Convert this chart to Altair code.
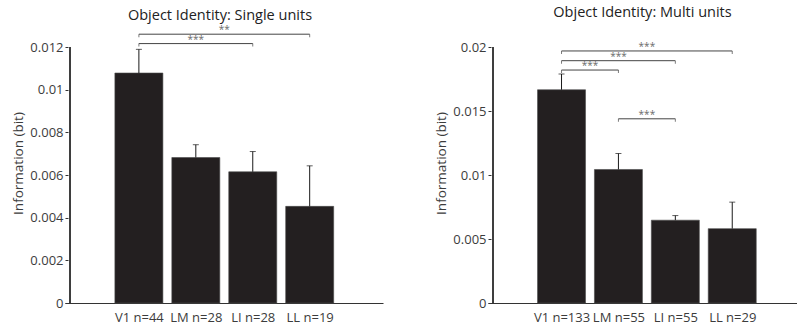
import altair as alt
import pandas as pd

# Visual areas along the ventral stream, plotted at positions 1..4
regions = ["V1", "LM", "LI", "LL"]
positions = [1, 2, 3, 4]

# Single units: mean information and SEM (bit)
single_n = [44, 28, 28, 19]
single_mean = [0.01078, 0.00682, 0.00615, 0.00453]
single_err = [0.00111, 0.00060, 0.00095, 0.00190]

# Multi units: mean information and SEM (bit)
multi_n = [133, 55, 55, 29]
multi_mean = [0.01666, 0.01043, 0.00647, 0.00581]
multi_err = [0.00123, 0.00125, 0.00036, 0.00207]

# Significance brackets: pair of areas, bracket height (bit), stars
single_sig_from = [1, 1]
single_sig_to = [3, 4]
single_sig_level = [0.01216, 0.0126]
single_sig_mark = ["***", "**"]

multi_sig_from = [1, 1, 1, 2]
multi_sig_to = [2, 3, 4, 3]
multi_sig_level = [0.0182, 0.01893, 0.01969, 0.01439]
multi_sig_mark = ["***", "***", "***", "***"]

single_ticks = [0, 0.002, 0.004, 0.006, 0.008, 0.01, 0.012]
multi_ticks = [0, 0.005, 0.01, 0.015, 0.02]

FONT = "Open Sans"
TEXT = "#3c3c3c"
AXIS = "#333333"
BAR = "#231f20"


def panel(title, n, mean, err, sig_from, sig_to, sig_level, sig_mark,
          yticks, xdomain, width, title_dx, title_offset):
    df = pd.DataFrame({"pos": positions, "region": regions, "n": n,
                       "mean": mean, "err": err})
    df["upper"] = df["mean"] + df["err"]
    sig = pd.DataFrame({"x1": sig_from, "x2": sig_to,
                        "level": sig_level, "mark": sig_mark})
    sig["mid"] = (sig["x1"] + sig["x2"]) / 2

    labels = [f"{r} n={k}" for r, k in zip(regions, n)]
    label_expr = " : ".join(
        f"datum.value == {p} ? '{lab}'" for p, lab in zip(positions, labels)
    ) + " : ''"

    xscale = alt.Scale(domain=xdomain, nice=False, zero=False)
    yscale = alt.Scale(domain=[0, yticks[-1]], nice=False)

    x_axis = alt.Axis(values=positions, labelExpr=label_expr, ticks=False,
                      grid=False, title=None, labelPadding=8,
                      labelFontSize=13, labelFont=FONT, labelColor=TEXT,
                      domainColor=AXIS, labelFlush=False)
    # the axis sits 3px inside the plot so its ticks point inward;
    # the y axis line itself is drawn as a rule on the left scale edge
    y_axis = alt.Axis(values=yticks, format=".3~f", offset=-3, tickSize=3,
                      tickColor=AXIS, domain=False, grid=False,
                      title="Information (bit)", labelPadding=2,
                      labelFontSize=13, labelFont=FONT, labelColor=TEXT,
                      titleFont=FONT, titleFontSize=13.5,
                      titleFontWeight="normal", titleColor=TEXT,
                      titleX=-50, titleY=116, titleBaseline="middle",
                      titleAngle=270)

    base = alt.Chart(df)
    bars = base.mark_bar(size=48, color=BAR, stroke="#4a4a4a",
                         strokeWidth=0.6).encode(
        x=alt.X("pos:Q", scale=xscale, axis=x_axis),
        y=alt.Y("mean:Q", scale=yscale, axis=y_axis),
    )
    y_line = alt.Chart(df).mark_rule(color=AXIS, strokeWidth=1).encode(
        x=alt.datum(xdomain[0]),
        y=alt.datum(yticks[0]),
        y2=alt.datum(yticks[-1]),
    )
    errs = base.mark_rule(color="#1a1a1a", strokeWidth=1).encode(
        x=alt.X("pos:Q", scale=xscale),
        y=alt.Y("mean:Q", scale=yscale),
        y2="upper:Q",
    )
    caps = base.mark_tick(orient="horizontal", size=6, thickness=1,
                          color="#1a1a1a").encode(
        x=alt.X("pos:Q", scale=xscale),
        y=alt.Y("upper:Q", scale=yscale),
    )

    sbase = alt.Chart(sig)
    spans = sbase.mark_rule(color="#444444", strokeWidth=1).encode(
        x=alt.X("x1:Q", scale=xscale), x2="x2:Q",
        y=alt.Y("level:Q", scale=yscale),
    )
    left_ends = sbase.mark_tick(orient="vertical", size=3, thickness=1,
                                yOffset=1.5, color="#444444").encode(
        x=alt.X("x1:Q", scale=xscale), y=alt.Y("level:Q", scale=yscale),
    )
    right_ends = sbase.mark_tick(orient="vertical", size=3, thickness=1,
                                 yOffset=1.5, color="#444444").encode(
        x=alt.X("x2:Q", scale=xscale), y=alt.Y("level:Q", scale=yscale),
    )
    stars = sbase.mark_text(font=FONT, fontSize=10, color="#6a6a6a",
                            baseline="alphabetic", dy=-1).encode(
        x=alt.X("mid:Q", scale=xscale), y=alt.Y("level:Q", scale=yscale),
        text="mark:N",
    )

    return alt.layer(bars, y_line, errs, caps, spans, left_ends, right_ends,
                     stars).properties(
        width=width, height=256,
        title=alt.TitleParams(title, font=FONT, fontSize=14.5,
                              fontWeight="normal", color="#222222",
                              anchor="middle", dx=title_dx,
                              offset=title_offset),
    )


left = panel("Object Identity: Single units", single_n, single_mean,
             single_err, single_sig_from, single_sig_to, single_sig_level,
             single_sig_mark, single_ticks, [-0.21, 5.2], 318, -4, 2)
right = panel("Object Identity: Multi units", multi_n, multi_mean,
              multi_err, multi_sig_from, multi_sig_to, multi_sig_level,
              multi_sig_mark, multi_ticks, [-0.204, 5.05], 309, 0, 21)

chart = alt.hconcat(left, right, spacing=51).properties(
    padding={"left": 11, "top": 4, "right": 0, "bottom": 0}
).configure_view(stroke=None)

chart.save("out.html", embed_options={"renderer": "svg", "actions": False})
